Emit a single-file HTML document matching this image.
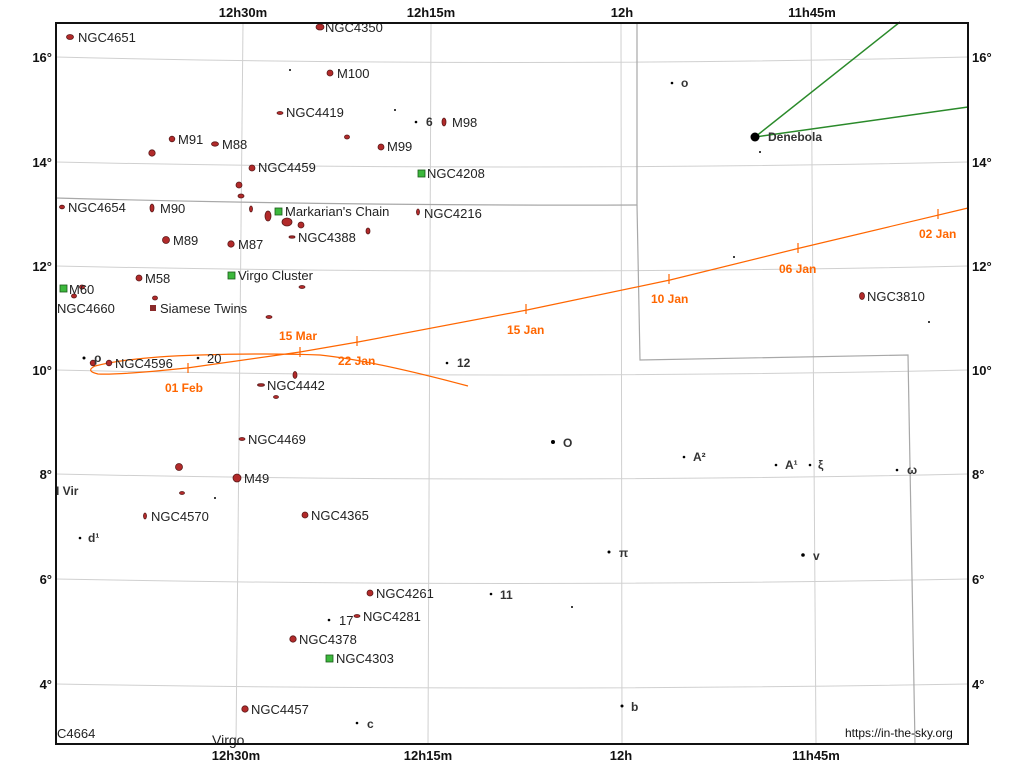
<!DOCTYPE html>
<html><head><style>html,body{margin:0;padding:0;background:#fff}svg{display:block}</style></head><body>
<svg width="1024" height="768" xmlns="http://www.w3.org/2000/svg" font-family="Liberation Sans, sans-serif">
<rect width="1024" height="768" fill="#fff"/>
<g fill="none" stroke="#d0d0d0" stroke-width="1">
<path d="M56,57 Q512,68 968,57"/>
<path d="M56,162 Q512,172 968,162"/>
<path d="M56,266 Q512,276 968,266"/>
<path d="M56,370 Q512,380 968,370"/>
<path d="M56,474 Q512,484 968,474"/>
<path d="M56,579 Q512,588 968,579"/>
<path d="M56,684 Q512,692 968,684"/>
<path d="M243,23 L236,744"/>
<path d="M431,23 L428,744"/>
<path d="M621,23 L622,744"/>
<path d="M811,23 L816,744"/>
</g>
<g fill="none" stroke="#a8a8a8" stroke-width="1.2">
<path d="M56,198 Q350,206 637,205 L637,23"/>
<path d="M637,205 L640,360 L908,355 L915,744"/>
</g>
<g stroke="#2a8a2a" stroke-width="1.5"><line x1="755" y1="137" x2="900" y2="22"/><line x1="755" y1="137" x2="968" y2="107"/></g>
<circle cx="755" cy="137" r="4.5" fill="#000"/>
<text x="768" y="141" font-size="12" font-weight="bold" fill="#333">Denebola</text>
<g fill="none" stroke="#ff6600" stroke-width="1.2">
<path d="M968,208 L800,248 L670,280 L527,310 L358,342 L300,352 L187,368 Q120,375 98,374 Q85,371 95,366 Q130,357 200,355 Q270,353 320,355 Q370,360 468,386"/>
<path d="M938,209v10M798,243v10M669,274v10M526,304v10M357,336v10M300,347v10M188,363v10"/>
</g>
<g fill="#ff6600" font-size="12" font-weight="bold">
<text x="919" y="238">02 Jan</text><text x="779" y="273">06 Jan</text><text x="651" y="303">10 Jan</text>
<text x="507" y="334">15 Jan</text><text x="338" y="365">22 Jan</text><text x="279" y="340">15 Mar</text><text x="165" y="392">01 Feb</text>
</g>
<g fill="#b22a2a" stroke="#5a1a1a" stroke-width="0.8">
<ellipse cx="70" cy="37" rx="3.5" ry="2.5"/><ellipse cx="320" cy="27" rx="4" ry="3"/><circle cx="330" cy="73" r="3"/>
<ellipse cx="280" cy="113" rx="3" ry="1.5"/><circle cx="172" cy="139" r="2.8"/><ellipse cx="215" cy="144" rx="3.5" ry="2.2"/>
<circle cx="152" cy="153" r="3.2"/><ellipse cx="347" cy="137" rx="2.5" ry="2"/><circle cx="381" cy="147" r="3"/>
<ellipse cx="444" cy="122" rx="2" ry="4"/><circle cx="252" cy="168" r="3"/><circle cx="239" cy="185" r="3"/>
<ellipse cx="241" cy="196" rx="3" ry="2"/><ellipse cx="62" cy="207" rx="2.5" ry="1.8"/><ellipse cx="152" cy="208" rx="2" ry="4"/>
<ellipse cx="251" cy="209" rx="1.5" ry="3"/><ellipse cx="268" cy="216" rx="3" ry="5"/><ellipse cx="287" cy="222" rx="5" ry="4"/>
<circle cx="301" cy="225" r="3"/><ellipse cx="368" cy="231" rx="2" ry="3"/><ellipse cx="418" cy="212" rx="1.5" ry="3"/>
<circle cx="166" cy="240" r="3.5"/><circle cx="231" cy="244" r="3.2"/><ellipse cx="292" cy="237" rx="3" ry="1.2"/>
<circle cx="139" cy="278" r="3"/><ellipse cx="302" cy="287" rx="3" ry="1.5"/><ellipse cx="155" cy="298" rx="2.5" ry="2"/>
<ellipse cx="74" cy="296" rx="2.5" ry="2"/><ellipse cx="82" cy="287" rx="2.5" ry="2"/><ellipse cx="269" cy="317" rx="3" ry="1.5"/>
<circle cx="109" cy="363" r="2.8"/><circle cx="93" cy="363" r="2.8"/><ellipse cx="295" cy="375" rx="2" ry="3.5"/>
<ellipse cx="261" cy="385" rx="3.5" ry="1.3"/><ellipse cx="276" cy="397" rx="2.5" ry="1.5"/><ellipse cx="242" cy="439" rx="3" ry="1.5"/>
<circle cx="179" cy="467" r="3.5"/><circle cx="237" cy="478" r="4"/><ellipse cx="182" cy="493" rx="2.5" ry="1.5"/>
<ellipse cx="145" cy="516" rx="1.5" ry="3"/><circle cx="305" cy="515" r="3"/><circle cx="370" cy="593" r="3"/>
<ellipse cx="357" cy="616" rx="3" ry="1.5"/><circle cx="293" cy="639" r="3.2"/><circle cx="245" cy="709" r="3.2"/>
<ellipse cx="862" cy="296" rx="2.5" ry="3.5"/>
</g>
<g fill="#3cb83c" stroke="#1a5a1a" stroke-width="0.8">
<rect x="418" y="170" width="7" height="7"/><rect x="275" y="208" width="7" height="7"/><rect x="228" y="272" width="7" height="7"/>
<rect x="60" y="285" width="7" height="7"/><rect x="326" y="655" width="7" height="7"/>
</g>
<rect x="150" y="305" width="6" height="6" fill="#8a2a2a"/>
<g fill="#000">
<circle cx="416" cy="122" r="1.3"/><circle cx="672" cy="83" r="1.3"/><circle cx="553" cy="442" r="2"/><circle cx="684" cy="457" r="1.3"/>
<circle cx="776" cy="465" r="1.3"/><circle cx="810" cy="465" r="1.3"/><circle cx="897" cy="470" r="1.3"/><circle cx="609" cy="552" r="1.5"/>
<circle cx="803" cy="555" r="1.8"/><circle cx="491" cy="594" r="1.3"/><circle cx="622" cy="706" r="1.5"/><circle cx="357" cy="723" r="1.3"/>
<circle cx="447" cy="363" r="1.3"/><circle cx="198" cy="358" r="1.3"/><circle cx="84" cy="358" r="1.5"/><circle cx="80" cy="538" r="1.3"/>
<circle cx="329" cy="620" r="1.3"/><circle cx="215" cy="498" r="1"/><circle cx="760" cy="152" r="1"/><circle cx="929" cy="322" r="1"/>
<circle cx="734" cy="257" r="1"/><circle cx="572" cy="607" r="1"/><circle cx="290" cy="70" r="1"/><circle cx="395" cy="110" r="1"/>
</g>
<g font-size="13" fill="#222">
<text x="78" y="42">NGC4651</text><text x="325" y="32">NGC4350</text><text x="337" y="78">M100</text><text x="286" y="117">NGC4419</text>
<text x="178" y="144">M91</text><text x="222" y="149">M88</text><text x="387" y="151">M99</text><text x="452" y="127">M98</text>
<text x="258" y="172">NGC4459</text><text x="427" y="178">NGC4208</text><text x="68" y="212">NGC4654</text><text x="160" y="213">M90</text>
<text x="285" y="216">Markarian's Chain</text><text x="424" y="218">NGC4216</text><text x="173" y="245">M89</text><text x="238" y="249">M87</text>
<text x="298" y="242">NGC4388</text><text x="238" y="280">Virgo Cluster</text><text x="145" y="283">M58</text><text x="69" y="294">M60</text>
<text x="57" y="313">NGC4660</text><text x="160" y="313">Siamese Twins</text><text x="115" y="368">NGC4596</text><text x="267" y="390">NGC4442</text>
<text x="248" y="444">NGC4469</text><text x="244" y="483">M49</text><text x="151" y="521">NGC4570</text><text x="311" y="520">NGC4365</text>
<text x="376" y="598">NGC4261</text><text x="363" y="621">NGC4281</text><text x="299" y="644">NGC4378</text><text x="336" y="663">NGC4303</text>
<text x="251" y="714">NGC4457</text><text x="57" y="738">C4664</text><text x="867" y="301">NGC3810</text>
<text x="207" y="363">20</text><text x="339" y="625">17</text><text x="212" y="745" font-size="14">Virgo</text>
</g>
<g font-size="12" font-weight="bold" fill="#333">
<text x="426" y="126">6</text><text x="681" y="87">o</text><text x="457" y="367">12</text><text x="563" y="447">O</text><text x="693" y="461">A²</text>
<text x="785" y="469">A¹</text><text x="818" y="469">ξ</text><text x="907" y="474">ω</text><text x="619" y="557">π</text><text x="813" y="560">v</text>
<text x="500" y="599">11</text><text x="631" y="711">b</text><text x="367" y="728">c</text><text x="88" y="542">d¹</text><text x="94" y="362">ρ</text><text x="56" y="495">I Vir</text>
</g>
<text x="845" y="737" font-size="12" fill="#111">https://in-the-sky.org</text>
<rect x="56" y="23" width="912" height="721" fill="none" stroke="#111" stroke-width="2"/>
<rect x="969" y="0" width="55" height="768" fill="#fff"/>
<g font-size="13" font-weight="bold" fill="#111">
<text x="243" y="17" text-anchor="middle">12h30m</text><text x="431" y="17" text-anchor="middle">12h15m</text>
<text x="622" y="17" text-anchor="middle">12h</text><text x="812" y="17" text-anchor="middle">11h45m</text>
<text x="236" y="760" text-anchor="middle">12h30m</text><text x="428" y="760" text-anchor="middle">12h15m</text>
<text x="621" y="760" text-anchor="middle">12h</text><text x="816" y="760" text-anchor="middle">11h45m</text>
<g text-anchor="end"><text x="52" y="62">16°</text><text x="52" y="167">14°</text><text x="52" y="271">12°</text><text x="52" y="375">10°</text><text x="52" y="479">8°</text><text x="52" y="584">6°</text><text x="52" y="689">4°</text></g>
<text x="972" y="62">16°</text><text x="972" y="167">14°</text><text x="972" y="271">12°</text><text x="972" y="375">10°</text><text x="972" y="479">8°</text><text x="972" y="584">6°</text><text x="972" y="689">4°</text>
</g>
</svg>
</body></html>
